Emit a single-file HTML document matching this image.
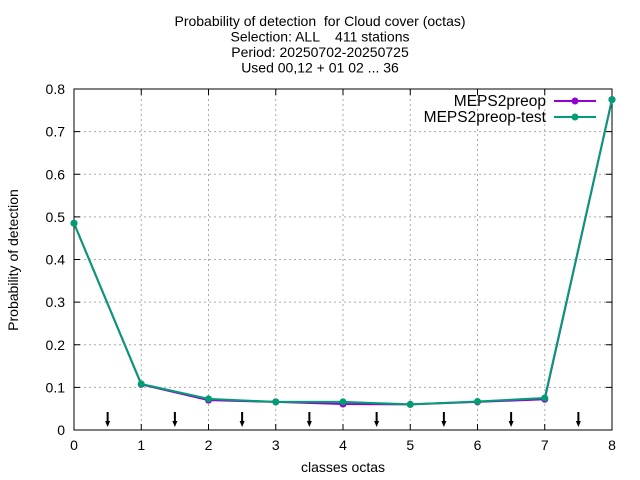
<!DOCTYPE html>
<html><head><meta charset="utf-8"><style>
body{margin:0;background:#fff}
svg{display:block;font-family:"Liberation Sans",sans-serif}
text{white-space:pre}
</style></head><body>
<svg id="c" width="640" height="480"></svg>
<script>
const categories=[0,1,2,3,4,5,6,7,8];
const seriesA=[0.485,0.107,0.070,0.066,0.061,0.060,0.066,0.072,0.775];
const seriesB=[0.485,0.108,0.073,0.066,0.066,0.060,0.067,0.075,0.775];
const xTicks=[0,1,2,3,4,5,6,7,8];
const yTicks=[0,0.1,0.2,0.3,0.4,0.5,0.6,0.7,0.8];
const arrowsAt=[0.5,1.5,2.5,3.5,4.5,5.5,6.5,7.5];
const L=74,R=612,T=89,B=430;
const X=v=>L+(v-0)/8*(R-L);
const Y=v=>B-v/0.8*(B-T);
const s=document.getElementById('c');
const NS='http://www.w3.org/2000/svg';
function mk(t,a,txt){const e=document.createElementNS(NS,t);for(const k in a)e.setAttribute(k,a[k]);if(txt!=null)e.textContent=txt;s.appendChild(e);return e;}
const titles=["Probability of detection  for Cloud cover (octas)","Selection: ALL    411 stations","Period: 20250702-20250725","Used 00,12 + 01 02 ... 36"];
titles.forEach((t,i)=>{const e=mk('text',{x:320,y:26+i*15.5,'text-anchor':'middle','font-size':14},t);

});
xTicks.forEach(v=>{
 const g=mk('line',{x1:X(v),x2:X(v),y1:T,y2:B,stroke:'#aaa','stroke-dasharray':'2,3','stroke-width':1});
 
 mk('line',{x1:X(v),x2:X(v),y1:B,y2:B-6,stroke:'#000'});mk('line',{x1:X(v),x2:X(v),y1:T,y2:T+6,stroke:'#000'});
 const t=mk('text',{x:X(v),y:B+20,'text-anchor':'middle','font-size':14},v);
 
});
yTicks.forEach(v=>{
 const g=mk('line',{x1:L,x2:R,y1:Y(v),y2:Y(v),stroke:'#aaa','stroke-dasharray':'2,3','stroke-width':1});
 
 mk('line',{x1:L,x2:L+6,y1:Y(v),y2:Y(v),stroke:'#000'});mk('line',{x1:R,x2:R-6,y1:Y(v),y2:Y(v),stroke:'#000'});
 const t=mk('text',{x:L-9,y:Y(v)+5,'text-anchor':'end','font-size':14},v===0?'0':v.toFixed(1));
 
});
const fr=mk('rect',{x:L,y:T,width:R-L,height:B-T,fill:'none',stroke:'#000'});

arrowsAt.forEach(v=>{
 const a=mk('line',{x1:X(v),x2:X(v),y1:412,y2:424,stroke:'#000','stroke-width':2});
 
 mk('path',{d:`M${X(v)-2.5},421 L${X(v)+2.5},421 L${X(v)},427 Z`,fill:'#000'});
});
function series(vals,col,name){
 const p=mk('polyline',{points:categories.map((c,i)=>X(c)+','+Y(vals[i])).join(' '),fill:'none',stroke:col,'stroke-width':2});
 
 categories.forEach((c,i)=>{const m=mk('circle',{cx:X(c),cy:Y(vals[i]),r:3.5,fill:col});
 });
}
series(seriesA,'#9400d3','meps2preop');
series(seriesB,'#009e73','meps2preop-test');
[['MEPS2preop','#9400d3',101],['MEPS2preop-test','#009e73',117]].forEach(([n,c,y])=>{
 const t=mk('text',{x:546,y:y+5,'text-anchor':'end','font-size':15.5},n);
 
 mk('line',{x1:554,x2:596,y1:y,y2:y,stroke:c,'stroke-width':2});
 mk('circle',{cx:575,cy:y,r:3.5,fill:c});
});
const xl=mk('text',{x:343,y:472,'text-anchor':'middle','font-size':14},'classes octas');

const yl=mk('text',{x:18,y:260,'text-anchor':'middle','font-size':14,transform:'rotate(-90 18 260)'},'Probability of detection');

</script>
</body></html>
